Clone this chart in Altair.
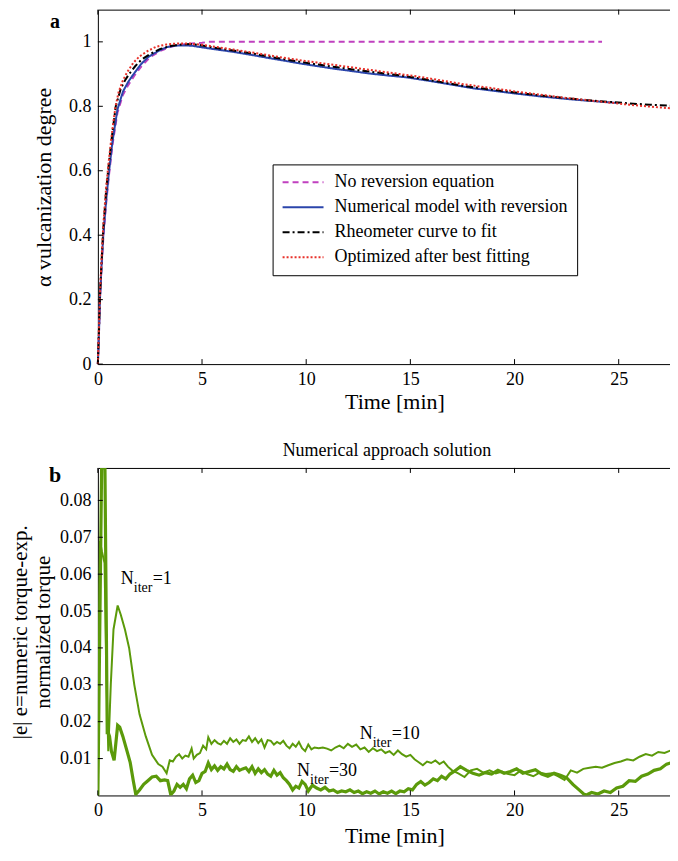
import altair as alt
import pandas as pd

FONT = "Liberation Serif"

# ---------------- Panel a : vulcanization degree ----------------
series_names = ["No reversion equation", "Numerical model with reversion",
                "Rheometer curve to fit", "Optimized after best fitting"]
series_colors = ["#c040bf", "#2b45ab", "#000000", "#e8312a"]
series_dashes = [[6, 4], [1, 0], [7, 3, 2, 3], [2, 2]]

t_mag = [0, 0.05, 0.1, 0.18, 0.26, 0.4, 0.54, 0.7, 0.94, 1.2, 1.45, 1.75, 2.1, 2.5,
         3.0, 3.5, 4.0, 4.5, 5.0, 5.3, 10, 15, 20, 24.2]
v_mag = [0, 0.09, 0.2, 0.3, 0.39, 0.5, 0.59, 0.68, 0.78, 0.835, 0.865, 0.895, 0.925, 0.952,
         0.972, 0.985, 0.991, 0.995, 0.997, 1.0, 1.0, 1.0, 1.0, 1.0]

t_blue = [0, 0.05, 0.1, 0.18, 0.26, 0.4, 0.54, 0.7, 0.94, 1.2, 1.45, 1.66, 2.06, 2.4, 2.69,
          3.0, 3.33, 3.7, 4.1, 4.5, 4.9, 5.5, 6.5, 7.5, 8.1, 9, 9.7, 10.5, 11.3, 12, 13, 14,
          14.8, 16, 17, 18, 19, 20, 21.2, 22, 23, 24, 25]
v_blue = [0, 0.09, 0.2, 0.31, 0.4, 0.51, 0.6, 0.69, 0.79, 0.845, 0.875, 0.895, 0.93, 0.952,
          0.964, 0.975, 0.984, 0.988, 0.989, 0.988, 0.984, 0.978, 0.969, 0.958, 0.951, 0.941,
          0.933, 0.925, 0.917, 0.911, 0.902, 0.895, 0.89, 0.878, 0.867, 0.856, 0.848, 0.840,
          0.831, 0.826, 0.820, 0.815, 0.81]

t_blk = [0, 0.05, 0.1, 0.18, 0.26, 0.4, 0.54, 0.7, 0.86, 1.1, 1.3, 1.5, 1.8, 2.1, 2.5, 3.0,
         3.5, 4.0, 4.5, 5.0, 5.5, 6.5, 7.5, 8.5, 9.5, 10.5, 11.5, 12.5, 13.5, 14.5, 15.5,
         16.5, 17.5, 18.5, 19.5, 20.5, 21.5, 22.5, 23.5, 24.5, 25.5, 26.5, 27.8]
v_blk = [0, 0.10, 0.21, 0.32, 0.42, 0.54, 0.63, 0.72, 0.80, 0.855, 0.88, 0.90, 0.925, 0.945,
         0.962, 0.978, 0.987, 0.992, 0.993, 0.989, 0.983, 0.973, 0.963, 0.951, 0.940, 0.930,
         0.921, 0.912, 0.904, 0.896, 0.886, 0.875, 0.864, 0.855, 0.847, 0.839, 0.832, 0.825,
         0.819, 0.814, 0.809, 0.805, 0.801]

t_red = [0, 0.05, 0.1, 0.18, 0.26, 0.4, 0.54, 0.7, 0.85, 1.0, 1.2, 1.4, 1.7, 2.0, 2.4, 2.8,
         3.3, 3.8, 4.3, 5.0, 5.5, 6.5, 7.5, 8.5, 9.5, 10.5, 11.5, 12.5, 13.5, 14.5, 15.5,
         16.5, 17.5, 18.5, 19.5, 20.5, 21.5, 22.5, 23.5, 24.5, 25.5, 26.5, 27.8]
v_red = [0, 0.11, 0.22, 0.33, 0.43, 0.55, 0.64, 0.73, 0.80, 0.845, 0.88, 0.905, 0.935, 0.955,
         0.972, 0.985, 0.992, 0.995, 0.995, 0.991, 0.986, 0.976, 0.966, 0.955, 0.945, 0.936,
         0.927, 0.918, 0.909, 0.900, 0.891, 0.880, 0.869, 0.860, 0.851, 0.842, 0.834, 0.826,
         0.819, 0.812, 0.805, 0.799, 0.792]

# ---------------- Panel b : error curves ----------------
t_thin = [0, 0.1, 0.2, 0.32, 0.42, 0.5, 0.62, 0.75, 0.95, 1.1, 1.3, 1.5, 1.75, 2.0, 2.3, 2.6,
          2.9, 3.1, 3.3, 3.45, 3.6, 3.75, 3.9, 4.05, 4.2, 4.35, 4.5, 4.6, 4.75, 4.9, 5.05, 5.2,
          5.3, 5.45, 5.6, 5.75, 5.9, 6.05, 6.2, 6.35, 6.5, 6.65, 6.8, 6.95, 7.1, 7.25, 7.4,
          7.55, 7.7, 7.85, 8.0, 8.15, 8.3, 8.45, 8.6, 8.75, 8.9, 9.05, 9.2, 9.35, 9.5, 9.65,
          9.8, 9.95, 10.1, 10.25, 10.4, 10.6, 10.8, 11.0, 11.2, 11.4, 11.6, 11.8, 12.0, 12.2,
          12.4, 12.6, 12.8, 13.0, 13.2, 13.4, 13.6, 13.8, 14.0, 14.2, 14.4, 14.6, 14.8, 15.0,
          15.2, 15.4, 15.6, 15.8, 16.0, 16.2, 16.4, 16.6, 16.8, 17.0, 17.3, 17.6, 17.9, 18.2,
          18.5, 18.8, 19.1, 19.4, 19.7, 20.0, 20.3, 20.6, 20.9, 21.2, 21.5, 21.8, 22.1, 22.4,
          22.7, 23.0, 23.3, 23.6, 23.9, 24.2, 24.5, 24.8, 25.1, 25.4, 25.7, 26.0, 26.3, 26.6,
          26.9, 27.2, 27.5, 27.8]
e_thin = [0, 0.069, 0.066, 0.063, 0.030, 0.012, 0.030, 0.045, 0.0515, 0.049, 0.045, 0.040,
          0.030, 0.022, 0.016, 0.011, 0.0085, 0.0078, 0.0060, 0.0095, 0.0092, 0.0105, 0.0112,
          0.0100, 0.0108, 0.0105, 0.0127, 0.0100, 0.0110, 0.0115, 0.0135, 0.0125, 0.0158,
          0.0140, 0.0150, 0.0142, 0.0138, 0.0148, 0.0140, 0.0155, 0.0145, 0.0152, 0.0140,
          0.0150, 0.0148, 0.0160, 0.0145, 0.0155, 0.0142, 0.0152, 0.0130, 0.0150, 0.0148,
          0.0138, 0.0145, 0.0140, 0.0148, 0.0135, 0.0128, 0.0140, 0.0132, 0.0145, 0.0128,
          0.0120, 0.0138, 0.0125, 0.0130, 0.0128, 0.0130, 0.0127, 0.0122, 0.0130, 0.0135,
          0.0128, 0.0140, 0.0132, 0.0138, 0.0125, 0.0130, 0.0118, 0.0128, 0.0120, 0.0125,
          0.0115, 0.0120, 0.0110, 0.0122, 0.0112, 0.0105, 0.0110, 0.0098, 0.0090, 0.0082,
          0.0092, 0.0088, 0.0095, 0.0085, 0.0092, 0.0078, 0.0068, 0.0060, 0.0050, 0.0068,
          0.0072, 0.0062, 0.0068, 0.0060, 0.0065, 0.0058, 0.0055, 0.0068, 0.0058, 0.0052,
          0.0062, 0.0058, 0.0060, 0.0052, 0.0042, 0.0068, 0.0062, 0.0072, 0.0075, 0.0078,
          0.0075, 0.0082, 0.0088, 0.0092, 0.0098, 0.0095, 0.0105, 0.0112, 0.0108, 0.0118,
          0.0115, 0.0122, 0.0125]

t_thick = [0, 0.18, 0.34, 0.45, 0.5, 0.56, 0.65, 0.78, 0.95, 1.05, 1.2, 1.4, 1.55, 1.7, 1.82,
           2.0, 2.2, 2.4, 2.6, 2.8, 3.0, 3.2, 3.35, 3.5, 3.65, 3.8, 3.95, 4.1, 4.25, 4.4, 4.55,
           4.7, 4.85, 5.0, 5.15, 5.3, 5.45, 5.6, 5.75, 5.9, 6.05, 6.2, 6.35, 6.5, 6.65, 6.8,
           6.95, 7.1, 7.25, 7.4, 7.55, 7.7, 7.85, 8.0, 8.15, 8.3, 8.45, 8.6, 8.75, 8.9, 9.05,
           9.2, 9.35, 9.5, 9.65, 9.8, 9.95, 10.1, 10.3, 10.5, 10.7, 10.9, 11.1, 11.3, 11.5,
           11.7, 11.9, 12.1, 12.3, 12.5, 12.7, 12.9, 13.1, 13.3, 13.5, 13.7, 13.9, 14.1, 14.3,
           14.5, 14.7, 14.9, 15.1, 15.3, 15.5, 15.7, 15.9, 16.1, 16.3, 16.5, 16.7, 16.9, 17.1,
           17.4, 17.7, 18.0, 18.3, 18.6, 18.9, 19.2, 19.5, 19.8, 20.1, 20.4, 20.7, 21.0, 21.3,
           21.6, 21.9, 22.2, 22.5, 22.8, 23.1, 23.4, 23.7, 24.0, 24.3, 24.6, 24.9, 25.2, 25.5,
           25.8, 26.1, 26.4, 26.7, 27.0, 27.3, 27.6, 27.8]
e_thick = [0, 0.0888, 0.0888, 0.017, 0.017, 0.016, 0.012, 0.0095, 0.019, 0.0185, 0.016, 0.012,
           0.009, 0.004, 0.0003, 0.0015, 0.0030, 0.0040, 0.0050, 0.0052, 0.0040, 0.0042,
           0.0040, 0.0002, 0.0012, 0.0030, 0.0022, 0.0030, 0.0018, 0.0045, 0.0055, 0.0035,
           0.0040, 0.0060, 0.0065, 0.0088, 0.0070, 0.0080, 0.0068, 0.0078, 0.0072, 0.0085,
           0.0070, 0.0065, 0.0078, 0.0068, 0.0072, 0.0075, 0.0065, 0.0078, 0.0060, 0.0072,
           0.0062, 0.0070, 0.0058, 0.0052, 0.0068, 0.0055, 0.0062, 0.0048, 0.0040, 0.0030,
           0.0015, 0.0025, 0.0020, 0.0038, 0.0030, 0.0012, 0.0028, 0.0020, 0.0015, 0.0022,
           0.0012, 0.0015, 0.0008, 0.0012, 0.0010, 0.0015, 0.0008, 0.0012, 0.0005, 0.0010,
           0.0006, 0.0012, 0.0004, 0.0010, 0.0006, 0.0012, 0.0005, 0.0012, 0.0010, 0.0018,
           0.0015, 0.0030, 0.0038, 0.0028, 0.0035, 0.0045, 0.0040, 0.0052, 0.0045, 0.0058,
           0.0065, 0.0078, 0.0068, 0.0060, 0.0055, 0.0062, 0.0058, 0.0068, 0.0060, 0.0065,
           0.0072, 0.0060, 0.0065, 0.0070, 0.0058, 0.0052, 0.0060, 0.0055, 0.0048, 0.0030,
           0.0015, 0.0000, 0.0008, 0.0004, 0.0012, 0.0008, 0.0020, 0.0025, 0.0040, 0.0038,
           0.0052, 0.0058, 0.0068, 0.0072, 0.0085, 0.0090, 0.0098]

# annotations (data coordinates of the "N" of each label)
ann_t = [1.10, 12.57, 9.56]
ann_e = [0.0573, 0.0152, 0.0053]
ann_eq = ["=1", "=10", "=30"]

x_ticks = [0, 5, 10, 15, 20, 25]
ya_ticks = [0, 0.2, 0.4, 0.6, 0.8, 1.0]
yb_ticks = [0.01, 0.02, 0.03, 0.04, 0.05, 0.06, 0.07, 0.08]

GREEN = "#5b9a0a"
W, HA, HB = 579, 355, 328

rows = []
for name, ts, vs in zip(series_names, [t_mag, t_blue, t_blk, t_red],
                        [v_mag, v_blue, v_blk, v_red]):
    for t, v in zip(ts, vs):
        rows.append({"series": name, "t": t, "v": v})
df_a = pd.DataFrame(rows)
df_thin = pd.DataFrame({"t": t_thin, "e": e_thin})
df_thick = pd.DataFrame({"t": t_thick, "e": e_thick})
df_ann = pd.DataFrame({"t": ann_t, "e": ann_e, "eq": ann_eq})
df_xt = pd.DataFrame({"t": x_ticks})
df_yat = pd.DataFrame({"v": ya_ticks})
df_ybt = pd.DataFrame({"e": yb_ticks})

xs = alt.Scale(domain=[0, 27.75], nice=False, zero=False)
ya = alt.Scale(domain=[0, 1.1], nice=False)
yb = alt.Scale(domain=[0, 0.0888], nice=False)


def x_axis(title_y):
    return alt.Axis(values=x_ticks, ticks=False, tickSize=0, domain=False, grid=False,
                    labelFlush=False, labelFont=FONT, labelFontSize=18, labelPadding=6,
                    labelColor="black", title="Time [min]", titleFont=FONT,
                    titleFontSize=22, titleFontWeight="normal", titleColor="black",
                    titleX=297, titleY=title_y, titleBaseline="alphabetic",
                    titleAlign="center")


ya_axis = alt.Axis(values=ya_ticks, format="~g", ticks=False, tickSize=0,
                   domain=False, grid=False, labelFont=FONT, labelFontSize=18,
                   labelPadding=7, labelColor="black",
                   title="\u03b1 vulcanization degree", titleFont=FONT,
                   titleFontSize=22, titleFontWeight="normal", titleColor="black",
                   titleX=-47, titleBaseline="alphabetic", titleAlign="center")

yb_axis = alt.Axis(values=yb_ticks, format=".2f", ticks=False, tickSize=0, domain=False,
                   grid=False, labelFont=FONT, labelFontSize=18, labelPadding=7,
                   labelColor="black",
                   title=["|e| e=numeric torque-exp.", "normalized torque"],
                   titleFont=FONT, titleFontSize=21, titleFontWeight="normal",
                   titleColor="black", titleLineHeight=23, titleX=-71,
                   titleBaseline="alphabetic", titleAlign="center")

xa_axis = x_axis(44)
xb_axis = x_axis(47)


def tick_layers(df_y, yfield, yscale, yaxis, xaxis, h):
    base_x = alt.Chart(df_xt).mark_rule(color="black", strokeWidth=1)
    base_y = alt.Chart(df_y).mark_rule(color="black", strokeWidth=1)
    xenc = alt.X("t:Q", scale=xs, axis=xaxis)
    yenc = alt.Y(f"{yfield}:Q", scale=yscale, axis=yaxis)
    return [
        base_x.encode(x=xenc, y=alt.value(0), y2=alt.value(5)),
        base_x.encode(x=xenc, y=alt.value(h), y2=alt.value(h - 5)),
        base_y.encode(y=yenc, x=alt.value(0), x2=alt.value(5)),
        base_y.encode(y=yenc, x=alt.value(W), x2=alt.value(W - 5)),
    ]


legend = alt.Legend(orient="none", legendX=175, legendY=155, direction="vertical",
                    symbolType="stroke", symbolSize=1681, symbolStrokeWidth=2,
                    clipHeight=18, rowPadding=7, labelOffset=10, padding=9,
                    labelFont=FONT, labelFontSize=18, labelColor="black",
                    strokeColor="black", fillColor="white", labelLimit=400)

lines_a = alt.Chart(df_a).mark_line(strokeWidth=2).encode(
    x=alt.X("t:Q", scale=xs, axis=xa_axis),
    y=alt.Y("v:Q", scale=ya, axis=ya_axis),
    color=alt.Color("series:N", scale=alt.Scale(domain=series_names, range=series_colors),
                    legend=legend, title=None),
    strokeDash=alt.StrokeDash("series:N",
                              scale=alt.Scale(domain=series_names, range=series_dashes),
                              legend=legend, title=None),
)

label_a = alt.Chart(pd.DataFrame({"k": ["a"]})).mark_text(
    font=FONT, fontSize=20, fontWeight="bold", align="left", baseline="alphabetic",
    color="black").encode(text="k:N", x=alt.value(-48), y=alt.value(18))

panel_a = alt.layer(lines_a, *tick_layers(df_yat, "v", ya, ya_axis, xa_axis, HA),
                    label_a).properties(width=W, height=HA)

thin = alt.Chart(df_thin).mark_line(color=GREEN, strokeWidth=2, clip=True).encode(
    x=alt.X("t:Q", scale=xs, axis=xb_axis),
    y=alt.Y("e:Q", scale=yb, axis=yb_axis),
)
thick = alt.Chart(df_thick).mark_line(color=GREEN, strokeWidth=3.2, clip=True).encode(
    x=alt.X("t:Q", scale=xs, axis=xb_axis),
    y=alt.Y("e:Q", scale=yb, axis=yb_axis),
)

ann = alt.Chart(df_ann)
ann_enc = dict(x=alt.X("t:Q", scale=xs, axis=xb_axis),
               y=alt.Y("e:Q", scale=yb, axis=yb_axis))
ann_n = ann.mark_text(font=FONT, fontSize=18, align="left", baseline="alphabetic",
                      color="black").encode(text=alt.value("N"), **ann_enc)
ann_sub = ann.mark_text(font=FONT, fontSize=14, align="left", baseline="alphabetic",
                        color="black", dx=13, dy=8).encode(text=alt.value("iter"), **ann_enc)
ann_eqm = ann.mark_text(font=FONT, fontSize=18, align="left", baseline="alphabetic",
                        color="black", dx=32).encode(text="eq:N", **ann_enc)

label_b = alt.Chart(pd.DataFrame({"k": ["b"]})).mark_text(
    font=FONT, fontSize=22, fontWeight="bold", align="left", baseline="alphabetic",
    color="black").encode(text="k:N", x=alt.value(-49), y=alt.value(14))

panel_b = alt.layer(thin, thick, *tick_layers(df_ybt, "e", yb, yb_axis, xb_axis, HB),
                    ann_n, ann_sub, ann_eqm, label_b).properties(
    width=W, height=HB,
    title=alt.TitleParams("Numerical approach solution", font=FONT, fontSize=18,
                          fontWeight="normal", color="black", baseline="alphabetic",
                          offset=-10, anchor="middle"))

chart = alt.vconcat(panel_a, panel_b, spacing=104, bounds="flush").configure_view(
    stroke="black", strokeWidth=1).properties(
    padding={"left": 1, "top": 0, "right": -12, "bottom": 0})

chart.save("out.html", embed_options={"renderer": "svg", "actions": False})
